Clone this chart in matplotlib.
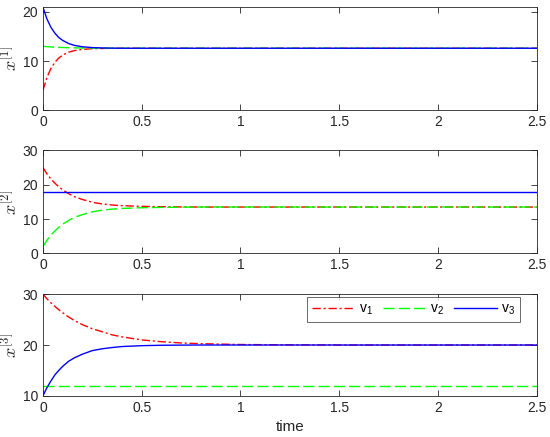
import matplotlib
matplotlib.use("Agg")
import matplotlib.pyplot as plt
from matplotlib.ticker import FuncFormatter

plt.rcParams["font.family"] = ["Liberation Sans", "DejaVu Sans"]
plt.rcParams["mathtext.fontset"] = "custom"
plt.rcParams["mathtext.rm"] = "Liberation Sans"
plt.rcParams["mathtext.it"] = "Liberation Sans:italic"

# time samples
t = [0, 0.02, 0.04, 0.06, 0.08, 0.10, 0.13, 0.16, 0.20, 0.25, 0.30,
     0.35, 0.40, 0.50, 0.60, 0.70, 0.80, 1.00, 1.25, 1.5, 2.0, 2.5]

# x^[1]
x1_v1 = [4.0, 6.6, 8.44, 9.71, 10.59, 11.2, 11.79, 12.13, 12.37, 12.51, 12.56,
         12.59, 12.6, 12.6, 12.6, 12.6, 12.6, 12.6, 12.6, 12.6, 12.6, 12.6]
x1_v2 = [13.0, 12.93, 12.87, 12.82, 12.78, 12.75, 12.71, 12.68, 12.65, 12.63, 12.62,
         12.61, 12.6, 12.6, 12.6, 12.6, 12.6, 12.6, 12.6, 12.6, 12.6, 12.6]
x1_v3 = [21.0, 18.6, 16.9, 15.7, 14.8, 14.2, 13.56, 13.18, 12.9, 12.73, 12.66,
         12.62, 12.6, 12.6, 12.6, 12.6, 12.6, 12.6, 12.6, 12.6, 12.6, 12.6]

# x^[2]
x2_v1 = [25.0, 23.2, 21.7, 20.5, 19.4, 18.5, 17.4, 16.5, 15.7, 14.9, 14.4,
         14.1, 13.9, 13.7, 13.6, 13.54, 13.5, 13.5, 13.5, 13.5, 13.5, 13.5]
x2_v2 = [2.0, 3.8, 5.3, 6.5, 7.6, 8.5, 9.6, 10.5, 11.3, 12.1, 12.6,
         12.9, 13.1, 13.3, 13.4, 13.46, 13.5, 13.5, 13.5, 13.5, 13.5, 13.5]
x2_v3 = [18.0] * len(t)

# x^[3]
x3_v1 = [30.0, 29.1, 28.3, 27.6, 26.95, 26.35, 25.5, 24.8, 24.0, 23.2, 22.6,
         22.0, 21.6, 21.0, 20.65, 20.4, 20.26, 20.1, 20.03, 20.0, 20.0, 20.0]
x3_v2 = [12.0] * len(t)
x3_v3 = [10.0, 11.6, 12.9, 14.1, 15.0, 15.8, 16.8, 17.5, 18.2, 18.9, 19.26,
         19.5, 19.7, 19.87, 19.95, 19.98, 20.0, 20.0, 20.0, 20.0, 20.0, 20.0]

series = [
    (x1_v1, x1_v2, x1_v3),
    (x2_v1, x2_v2, x2_v3),
    (x3_v1, x3_v2, x3_v3),
]
ylims = [(0, 21), (0, 30), (10, 30)]
yticks = [[0, 10, 20], [0, 10, 20, 30], [10, 20, 30]]
ylabels = [r"$x^{[1]}$", r"$x^{[2]}$", r"$x^{[3]}$"]
xticks = [0, 0.5, 1, 1.5, 2, 2.5]
labels = [r"v$_1$", r"v$_2$", r"v$_3$"]

# axes boxes in figure fractions (left, bottom, width, height)
boxes = [
    (0.078, 0.748, 0.898, 0.236),
    (0.078, 0.420, 0.898, 0.236),
    (0.078, 0.094, 0.898, 0.233),
]

axis_col = "#262626"
fig = plt.figure(figsize=(5.5, 4.37), dpi=100)

for i in range(3):
    ax = fig.add_axes(boxes[i])
    v1, v2, v3 = series[i]
    ax.plot(t, v1, color="red", lw=1.0, linestyle=(0, (6, 2, 1.5, 2)), label=labels[0])
    ax.plot(t, v2, color="#00ff00", lw=1.0, linestyle=(0, (8, 3)), label=labels[1])
    ax.plot(t, v3, color="blue", lw=1.0, label=labels[2])
    ax.set_xlim(0, 2.5)
    ax.set_ylim(*ylims[i])
    ax.set_xticks(xticks)
    ax.set_yticks(yticks[i])
    ax.xaxis.set_major_formatter(FuncFormatter(lambda v, p: "%g" % v))
    ax.tick_params(direction="in", top=True, right=True, length=4,
                   width=0.6, color=axis_col, labelsize=10, labelcolor=axis_col)
    for s in ax.spines.values():
        s.set_color(axis_col)
        s.set_linewidth(0.6)
    ylab = ax.set_ylabel(ylabels[i], fontsize=13, color=axis_col, labelpad=1)
    ylab.set_math_fontfamily("cm")
    if i == 2:
        ax.set_xlabel("time", fontsize=11, color=axis_col, labelpad=4)
        leg = ax.legend(ncol=3, loc="upper left", bbox_to_anchor=(0.535, 0.975),
                        borderaxespad=0, fontsize=10, handlelength=3.1,
                        columnspacing=0.7, handletextpad=0.3, frameon=True,
                        fancybox=False, borderpad=0.35)
        leg.get_frame().set_edgecolor(axis_col)
        leg.get_frame().set_linewidth(0.6)

fig.savefig("out.png", dpi=100)
